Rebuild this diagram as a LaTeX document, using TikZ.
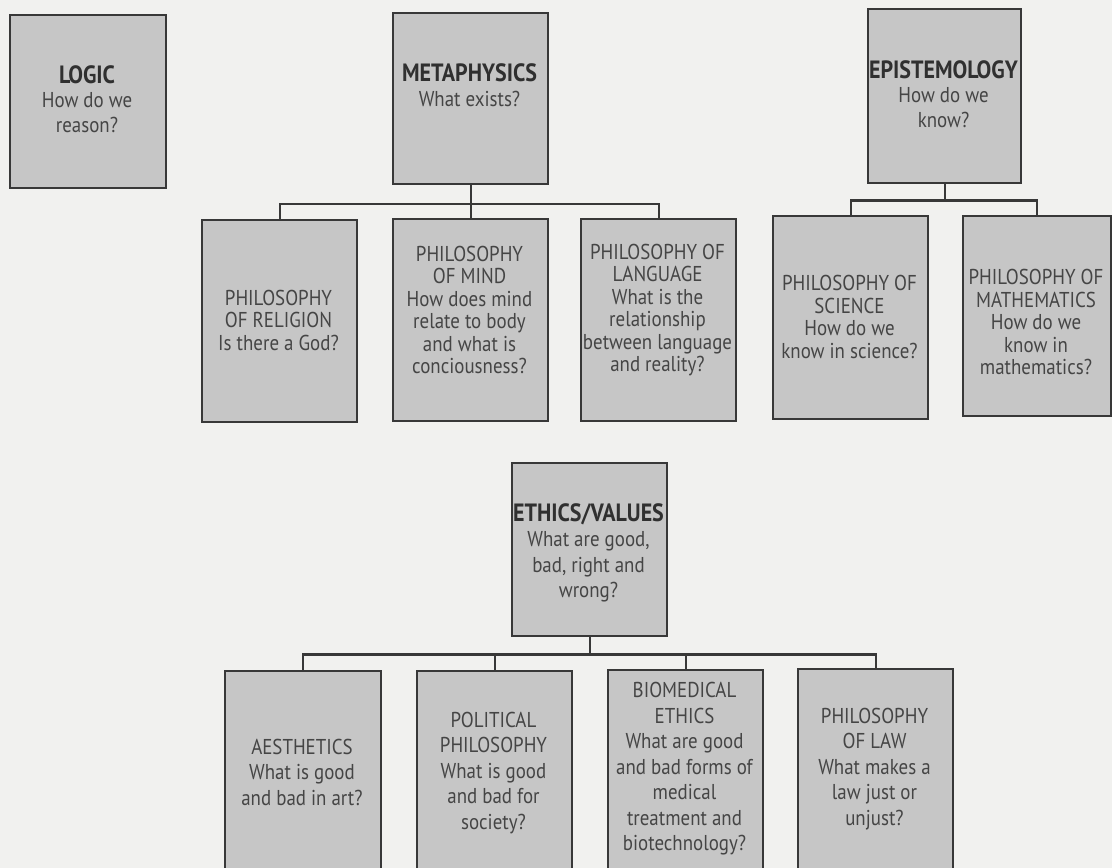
\documentclass[tikz,border=0pt]{standalone}
\usepackage{fontspec}
\setmainfont{PT Sans}[FakeStretch=0.88]
\usetikzlibrary{calc}
\definecolor{bg}{HTML}{F1F1EF}
\definecolor{boxfill}{HTML}{C6C6C6}
\definecolor{boxline}{HTML}{383838}
\definecolor{txtc}{HTML}{454545}
\definecolor{headc}{HTML}{303030}
\tikzset{
  box/.style={draw=boxline, fill=boxfill, line width=2.4pt, rectangle, inner sep=0pt, anchor=north west},
  conn/.style={draw=boxline, line width=2.2pt},
  lbltop/.style={align=center, text=txtc, inner sep=0pt, font=\fontsize{21.5}{24.5}\selectfont},
  lblmid/.style={align=center, text=txtc, inner sep=0pt, font=\fontsize{21.5}{22.5}\selectfont},
  lblbot/.style={align=center, text=txtc, inner sep=0pt, font=\fontsize{21.5}{25.5}\selectfont},
}
\newcommand{\hd}[1]{{\fontsize{25}{24.5}\selectfont\textcolor{headc}{\textbf{#1}}}}
\begin{document}
\begin{tikzpicture}[x=1pt,y=-1pt]
\clip (0,0) rectangle (1112,868);
\fill[bg] (0,0) rectangle (1112,868);
% top level
\node[box, minimum width=156, minimum height=173] (logic) at (9,14) {};
\node[box, minimum width=155, minimum height=171] (meta) at (392,12) {};
\node[box, minimum width=153, minimum height=174] (epist) at (867,8) {};
% second row
\node[box, minimum width=155, minimum height=202] (relig) at (201,219) {};
\node[box, minimum width=155, minimum height=202] (mind) at (392,218) {};
\node[box, minimum width=155, minimum height=202] (lang) at (580,218) {};
\node[box, minimum width=155, minimum height=203] (sci) at (772,215) {};
\node[box, minimum width=148, minimum height=200] (math) at (962,215) {};
% ethics
\node[box, minimum width=155, minimum height=173] (ethics) at (511,462) {};
\node[box, minimum width=156, minimum height=205] (aest) at (224,670) {};
\node[box, minimum width=155, minimum height=205] (pol) at (416,670) {};
\node[box, minimum width=155, minimum height=205] (bio) at (607,669) {};
\node[box, minimum width=155, minimum height=205] (law) at (797,668) {};
% connectors
\coordinate (mj) at ($(meta.south)+(0,18.5)$);
\draw[conn] (meta.south) -- (mj);
\draw[conn] (relig.north) |- (mj) -| (lang.north);
\draw[conn] (mj) -- (mind.north);
\coordinate (ej) at ($(epist.south)+(0,16)$);
\draw[conn] (epist.south) -- (ej);
\draw[conn] (sci.north) |- (ej) -| (math.north);
\coordinate (tj) at ($(ethics.south)+(0,17)$);
\draw[conn] (ethics.south) -- (tj);
\draw[conn] (aest.north) |- (tj) -| (law.north);
\draw[conn] (pol.north) -- (pol.north |- tj);
\draw[conn] (bio.north) -- (bio.north |- tj);
% texts
\node[lbltop] (logicT) at (87,99) {\hd{LOGIC}\\How do we\\reason?};
\node[lbltop] (metaT) at (469.5,85) {\hd{METAPHYSICS}\\What exists?};
\node[lbltop] (epistT) at (943.5,94) {\hd{EPISTEMOLOGY}\\How do we\\know?};
\node[lblmid] (religT) at (278.5,320) {PHILOSOPHY\\OF RELIGION\\Is there a God?};
\node[lblmid] (mindT) at (469.5,310) {PHILOSOPHY\\OF MIND\\How does mind\\relate to body\\and what is\\conciousness?};
\node[lblmid] (langT) at (657.5,310) {PHILOSOPHY OF\\LANGUAGE\\What is the\\relationship\\between language\\and reality?};
\node[lblmid] (sciT) at (849.5,317) {PHILOSOPHY OF\\SCIENCE\\How do we\\know in science?};
\node[lblmid] (mathT) at (1036,322) {PHILOSOPHY OF\\MATHEMATICS\\How do we\\know in\\mathematics?};
\node[lblbot] (ethicsT) at (588.5,553) {\hd{ETHICS/VALUES}\\What are good,\\bad, right and\\wrong?};
\node[lblbot] (aestT) at (302,772) {AESTHETICS\\What is good\\and bad in art?};
\node[lblbot] (polT) at (493.5,773) {POLITICAL\\PHILOSOPHY\\What is good\\and bad for\\society?};
\node[lblbot] (bioT) at (684.5,769) {BIOMEDICAL\\ETHICS\\What are good\\and bad forms of\\medical\\treatment and\\biotechnology?};
\node[lblbot] (lawT) at (874.5,769) {PHILOSOPHY\\OF LAW\\What makes a\\law just or\\unjust?};
\end{tikzpicture}
\end{document}
